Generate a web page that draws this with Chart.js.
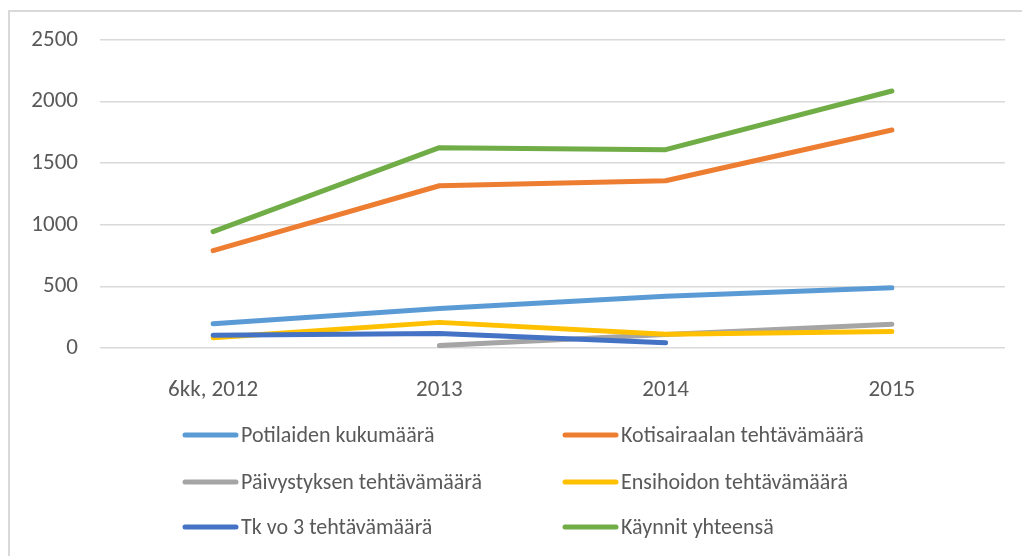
<!DOCTYPE html>
<html>
<head>
<meta charset="utf-8">
<script src="https://cdn.jsdelivr.net/npm/chart.js@4.4.1/dist/chart.umd.min.js"></script>
<style>
  html, body { margin: 0; padding: 0; background: #ffffff; }
  body { width: 1022px; height: 556px; overflow: hidden; position: relative; }
  #frame { position: absolute; left: 8px; top: 10px; width: 1100px; height: 700px; border: 2px solid #d9d9d9; box-sizing: border-box; }
  #wrap { position: absolute; left: 0; top: 0; width: 1022px; height: 556px; }
</style>
</head>
<body>
<div id="frame"></div>
<div id="wrap"><canvas id="c" width="1022" height="556"></canvas></div>
<script>
const categories = ["6kk, 2012", "2013", "2014", "2015"];
const seriesNames = [
  "Potilaiden kukumäärä",
  "Kotisairaalan tehtävämäärä",
  "Päivystyksen tehtävämäärä",
  "Ensihoidon tehtävämäärä",
  "Tk vo 3 tehtävämäärä",
  "Käynnit yhteensä"
];
const potilaiden = [197, 320, 420, 489];
const kotisairaala = [790, 1317, 1358, 1769];
const paivystys = [null, 20, 110, 192];
const ensihoito = [84, 208, 112, 133];
const tkvo3 = [103, 117, 42, null];
const kaynnit = [944, 1626, 1610, 2086];
const yTicks = [0, 500, 1000, 1500, 2000, 2500];
const colors = ["#5B9BD5", "#ED7D31", "#A5A5A5", "#FFC000", "#4472C4", "#70AD47"];

const FONT = "Carlito, Calibri, 'Liberation Sans Narrow', Lato, 'Open Sans', sans-serif";
const allSeries = [potilaiden, kotisairaala, paivystys, ensihoito, tkvo3, kaynnit];

const legendPlugin = {
  id: 'gridLegend',
  afterDraw(chart) {
    const ctx = chart.ctx;
    const colX = [183, 563];
    const rowY = [435, 482, 527];
    ctx.save();
    ctx.font = "22px " + FONT;
    ctx.textBaseline = "middle";
    ctx.textAlign = "left";
    seriesNames.forEach((name, i) => {
      const x = colX[i % 2];
      const y = rowY[Math.floor(i / 2)];
      ctx.strokeStyle = colors[i];
      ctx.lineWidth = 5;
      ctx.lineCap = "round";
      ctx.beginPath();
      ctx.moveTo(x + 2, y);
      ctx.lineTo(x + 53, y);
      ctx.stroke();
      ctx.fillStyle = "#595959";
      ctx.fillText(name, x + 58, y + 1);
    });
    ctx.restore();
  }
};

new Chart(document.getElementById('c'), {
  type: 'line',
  data: {
    labels: categories,
    datasets: allSeries.map((vals, i) => ({
      label: seriesNames[i],
      data: vals,
      borderColor: colors[i],
      backgroundColor: colors[i],
      borderWidth: 5,
      pointRadius: 0,
      pointHoverRadius: 0,
      tension: 0,
      fill: false,
      spanGaps: false,
      borderCapStyle: 'round',
      borderJoinStyle: 'round',
      order: allSeries.length - i
    }))
  },
  options: {
    responsive: false,
    animation: false,
    devicePixelRatio: 1,
    layout: { padding: { top: 40, right: 17, bottom: 148, left: 0 } },
    plugins: {
      legend: { display: false },
      tooltip: { enabled: false }
    },
    scales: {
      x: {
        offset: true,
        grid: { display: false },
        border: { display: false },
        ticks: { color: "#595959", font: { family: FONT, size: 23 }, padding: 20, maxRotation: 0 },
        afterFit(scale) { scale.height = 60; }
      },
      y: {
        min: 0,
        max: 2500,
        afterBuildTicks(scale) { scale.ticks = yTicks.map(v => ({ value: v })); },
        grid: { color: "#d9d9d9", lineWidth: 1.5, drawTicks: false },
        border: { display: false },
        ticks: {
          color: "#595959",
          font: { family: FONT, size: 23 },
          padding: 22,
          callback: (v) => String(v)
        },
        afterFit(scale) { scale.width = 100; }
      }
    }
  },
  plugins: [legendPlugin]
});
</script>
</body>
</html>
